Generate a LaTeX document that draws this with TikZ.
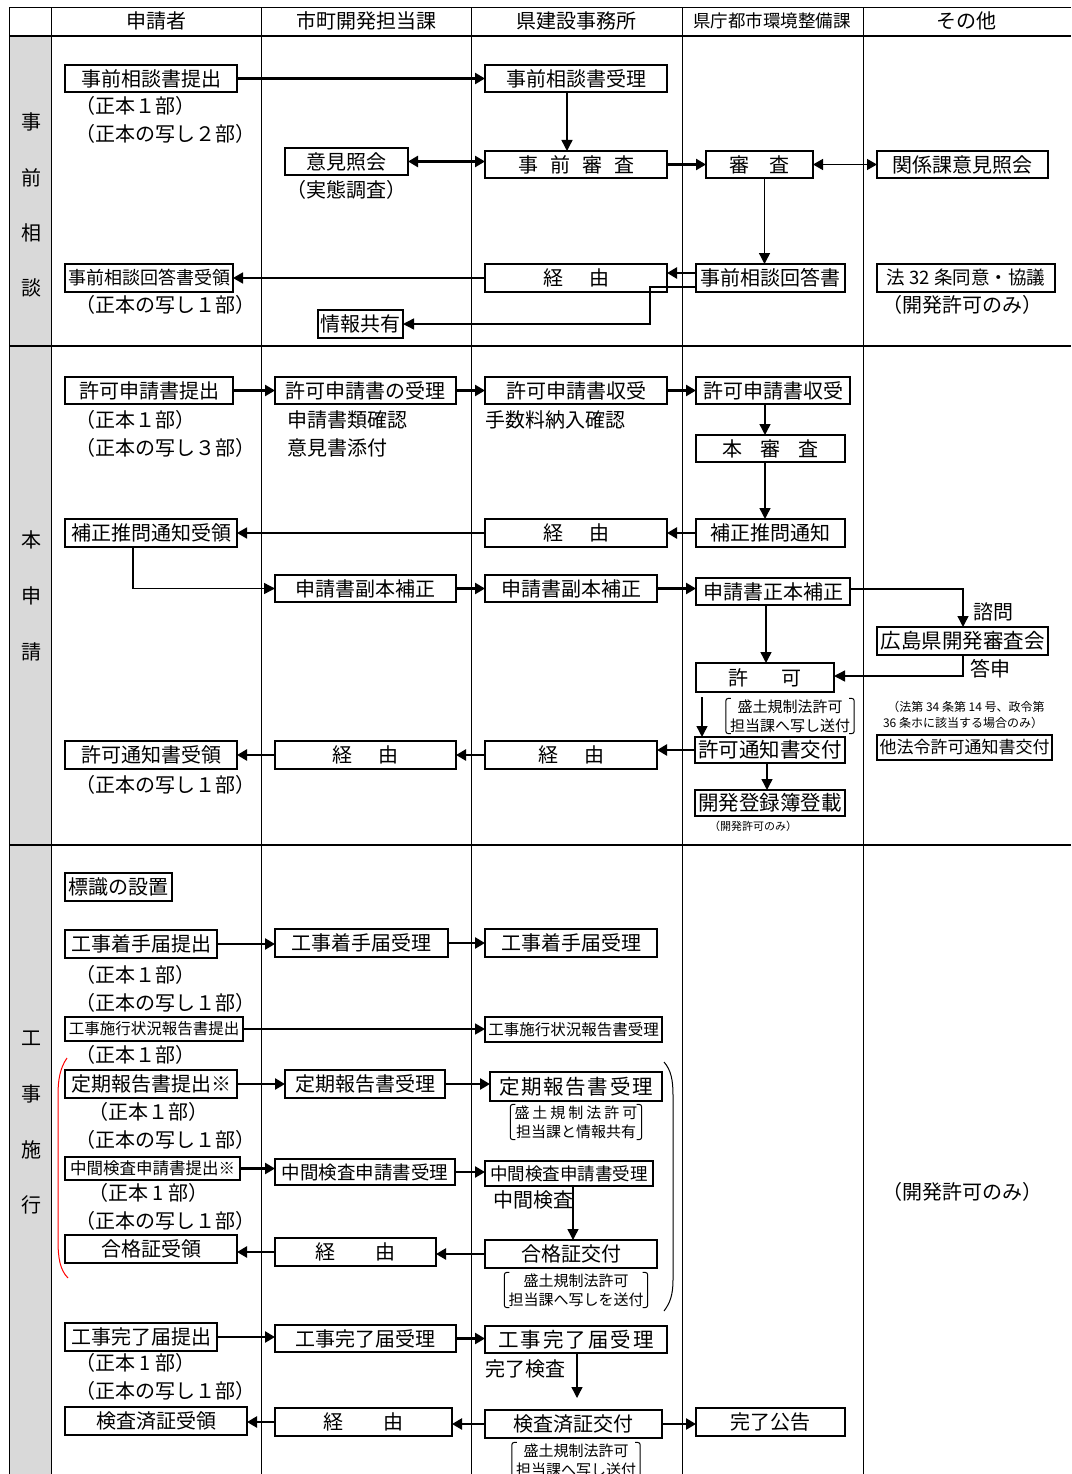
\documentclass[tikz,border=0pt]{standalone}
\usepackage{fontspec}
\setmainfont{Noto Sans CJK JP}
\usetikzlibrary{arrows.meta,calc}
\definecolor{lgray}{RGB}{217,217,217}
\tikzset{
 bx/.style={draw, line width=1.6pt, inner sep=0pt, outer sep=0pt, font=\fontsize{20}{22}\selectfont},
 arr/.style={line width=2.4pt, -{Triangle[length=10pt,width=11pt]}},
 marr/.style={line width=1.7pt, -{Triangle[length=10pt,width=11pt]}},
 tarr/.style={line width=1.4pt, -{Triangle[length=11pt,width=11pt]}},
 darr/.style={line width=2.4pt, {Triangle[length=10pt,width=11pt]}-{Triangle[length=10pt,width=11pt]}},
 tdarr/.style={line width=1.4pt, {Triangle[length=10pt,width=11pt]}-{Triangle[length=10pt,width=11pt]}},
 gridl/.style={line width=1pt},
 sepl/.style={line width=2pt},
 lbl/.style={font=\fontsize{20}{22}\selectfont, inner sep=0pt, anchor=west},
 clbl/.style={font=\fontsize{20}{22}\selectfont, inner sep=0pt},
 hdr/.style={font=\fontsize{20}{22}\selectfont, inner sep=0pt},
 sec/.style={font=\fontsize{20}{22}\selectfont, inner sep=0pt},
 note/.style={font=\fontsize{15}{19}\selectfont, align=center, inner xsep=4pt, inner ysep=1pt},
 small/.style={font=\fontsize{12}{14}\selectfont, inner sep=0pt},
 brk/.style={line width=1pt, rounded corners=2.5pt},
}
\newcommand\jbox[7][]{%
 \node[bx,minimum width={#5pt-#3pt},minimum height={#6pt-#4pt},#1] (#2) at ({(#3+#5)/2},{(#4+#6)/2}) {#7};}
\newcommand\bnote[4]{%
 \node[note] (#1) at (#2,#3) {#4};
 \draw[brk] ([xshift=5pt]#1.north west) -- (#1.north west) -- (#1.south west) -- ([xshift=5pt]#1.south west);
 \draw[brk] ([xshift=-5pt]#1.north east) -- (#1.north east) -- (#1.south east) -- ([xshift=-5pt]#1.south east);}
\begin{document}
\begin{tikzpicture}[x=1pt,y=-1pt]
\useasboundingbox (0,0) rectangle (1071,1474);
% ---------- table ----------
\fill[lgray] (9,36) rectangle (51,1474);
\draw[gridl] (9,8) -- (1071,8);
\foreach \xx in {9,51,261,471,682,863} {\draw[gridl] (\xx,8) -- (\xx,1474);}
\draw[sepl] (9,36) -- (1071,36);
\draw[sepl] (9,346) -- (1071,346);
\draw[sepl] (9,845) -- (1071,845);
% headers
\node[hdr] (h1) at (156,21) {申請者};
\node[hdr] (h2) at (366,21) {市町開発担当課};
\node[hdr] (h3) at (576,21) {県建設事務所};
\node[hdr,font=\fontsize{17.5}{19}\selectfont] (h4) at (772,21) {県庁都市環境整備課};
\node[hdr] (h5) at (966,21) {その他};
% section labels
\node[sec] (s11) at (31,122) {事};
\node[sec] (s12) at (31,178) {前};
\node[sec] (s13) at (31,233) {相};
\node[sec] (s14) at (31,288) {談};
\node[sec] (s21) at (31,540) {本};
\node[sec] (s22) at (31,596) {申};
\node[sec] (s23) at (31,652) {請};
\node[sec] (s31) at (31,1038) {工};
\node[sec] (s32) at (31,1094) {事};
\node[sec] (s33) at (31,1150) {施};
\node[sec] (s34) at (31,1205) {行};
% ---------- section 1 ----------
\jbox{a1}{65}{65}{237}{92}{事前相談書提出}
\jbox{a2}{485}{65}{667}{92}{事前相談書受理}
\jbox{a3}{285}{148}{408}{175}{意見照会}
\jbox{a4}{485}{151}{667}{178}{事\hspace{.6em}前\hspace{.6em}審\hspace{.6em}査}
\jbox{a5}{706}{151}{813}{178}{審\hspace{1em}査}
\jbox{a6}{877}{151}{1048}{178}{関係課意見照会}
\jbox{a7}{696}{264}{845}{292}{事前相談回答書}
\jbox{a8}{485}{264}{667}{292}{経\hspace{1.3em}由}
\jbox[font=\fontsize{18}{20}\selectfont]{a9}{65}{264}{233}{292}{事前相談回答書受領}
\jbox{a10}{318}{310}{403}{338}{情報共有}
\jbox[font=\fontsize{18.5}{20}\selectfont]{a11}{877}{264}{1055}{292}{法 32 条同意・協議}
\node[lbl] (t1) at (75,106) {（正本１部）};
\node[lbl] (t2) at (75,134) {（正本の写し２部）};
\node[clbl] (t3) at (346,190) {（実態調査）};
\node[lbl] (t4) at (75,305) {（正本の写し１部）};
\node[clbl] (t5) at (962,305) {（開発許可のみ）};
\draw[arr] (a1.east) -- (a1.east -| a2.west);
\draw[tarr] ([xshift=-9pt]a2.south) -- ([xshift=-9pt]a2.south |- a4.north);
\draw[darr] (a3.east) -- (a3.east -| a4.west);
\draw[arr] (a4.east) -- (a4.east -| a5.west);
\draw[tdarr] (a5.east) -- (a5.east -| a6.west);
\draw[tarr] ([xshift=5pt]a5.south) -- ([xshift=5pt]a5.south |- a7.north);
\draw[arr] ([yshift=5pt]a7.west) -- ([yshift=5pt]a7.west -| a8.east);
\draw[marr] (a8.west) -- (a8.west -| a9.east);
\draw[tarr] ([yshift=-9pt]a7.west) -- ++(-46,0) |- (a10.east);
% ---------- section 2 ----------
\jbox{b1}{65}{377}{233}{404}{許可申請書提出}
\jbox{b2}{275}{377}{456}{404}{許可申請書の受理}
\jbox{b3}{485}{377}{667}{404}{許可申請書収受}
\jbox{b4}{696}{377}{850}{404}{許可申請書収受}
\jbox{b5}{696}{435}{845}{462}{本\hspace{.9em}審\hspace{.9em}査}
\jbox{b6}{696}{519}{845}{547}{補正推問通知}
\jbox{b7}{485}{519}{667}{547}{経\hspace{1.3em}由}
\jbox{b8}{65}{519}{237}{547}{補正推問通知受領}
\jbox{b9}{275}{575}{456}{602}{申請書副本補正}
\jbox{b10}{485}{575}{657}{602}{申請書副本補正}
\jbox{b11}{696}{578}{850}{605}{申請書正本補正}
\jbox[font=\fontsize{20.5}{22}\selectfont]{b12}{877}{627}{1048}{655}{広島県開発審査会}
\jbox{b13}{696}{663}{834}{692}{許\hspace{1.7em}可}
\jbox[font=\fontsize{20.5}{22}\selectfont]{b14}{695}{737}{845}{763}{許可通知書交付}
\jbox[font=\fontsize{20.5}{22}\selectfont]{b15}{695}{790}{845}{816}{開発登録簿登載}
\jbox[font=\fontsize{17}{19}\selectfont]{b16}{877}{735}{1052}{760}{他法令許可通知書交付}
\jbox{b17}{485}{741}{657}{769}{経\hspace{1.3em}由}
\jbox{b18}{275}{741}{456}{769}{経\hspace{1.3em}由}
\jbox{b19}{65}{741}{237}{769}{許可通知書受領}
\node[lbl] (u1) at (75,420) {（正本１部）};
\node[lbl] (u2) at (75,448) {（正本の写し３部）};
\node[lbl] (u3) at (287,420) {申請書類確認};
\node[lbl] (u4) at (287,448) {意見書添付};
\node[lbl] (u5) at (485,420) {手数料納入確認};
\node[lbl] (u6) at (973,612) {諮問};
\node[lbl] (u7) at (970,669) {答申};
\node[small] (u8) at (966,707) {（法第 34 条第 14 号、政令第};
\node[small] (u9) at (963,723) {36 条ホに該当する場合のみ）};
\node[small,font=\fontsize{11}{13}\selectfont] (u10) at (753,826) {（開発許可のみ）};
\node[lbl] (u11) at (75,785) {（正本の写し１部）};
\bnote{n1}{790}{716}{盛土規制法許可\\担当課へ写し送付}
\draw[arr] (b1.east) -- (b1.east -| b2.west);
\draw[arr] (b2.east) -- (b2.east -| b3.west);
\draw[arr] (b3.east) -- (b3.east -| b4.west);
\draw[tarr] ([xshift=-8pt]b4.south) -- ([xshift=-8pt]b4.south |- b5.north);
\draw[tarr] ([xshift=-5.5pt]b5.south) -- ([xshift=-5.5pt]b5.south |- b6.north);
\draw[arr] (b6.west) -- (b6.west -| b7.east);
\draw[marr] (b7.west) -- (b7.west -| b8.east);
\draw[tarr] ([xshift=-18pt]b8.south) |- (b9.west);
\draw[arr] (b9.east) -- (b9.east -| b10.west);
\draw[arr] (b10.east) -- (b10.east -| b11.west);
\draw[tarr] ([yshift=2.5pt]b11.east) -| ([xshift=0.5pt]b12.north);
\draw[tarr] ([xshift=-7pt]b11.south) -- ([xshift=-7pt]b11.south |- b13.north);
\draw[tarr] ([xshift=0.5pt]b12.south) |- ([yshift=1.5pt]b13.east);
\draw[tarr] ([xshift=-63pt,yshift=-5pt]b13.south) -- ([xshift=-63pt]b13.south |- b14.north);
\draw[tarr] ([xshift=-3pt]b14.south) -- ([xshift=-3pt]b14.south |- b15.north);
\draw[arr] (b14.west) -- (b14.west -| b17.east);
\draw[arr] (b17.west) -- (b17.west -| b18.east);
\draw[arr] (b18.west) -- (b18.west -| b19.east);
% ---------- section 3 ----------
\jbox{c1}{65}{873}{172}{901}{標識の設置}
\jbox{c2}{65}{930}{217}{958}{工事着手届提出}
\jbox{c3}{275}{929}{448}{957}{工事着手届受理}
\jbox{c4}{485}{929}{657}{957}{工事着手届受理}
\jbox[font=\fontsize{15.5}{17}\selectfont]{c5}{65}{1017}{243}{1041}{工事施行状況報告書提出}
\jbox[font=\fontsize{15.5}{17}\selectfont]{c6}{485}{1017}{662}{1042}{工事施行状況報告書受理}
\jbox{c7}{65}{1070}{237}{1098}{定期報告書提出※}
\jbox{c8}{285}{1070}{445}{1098}{定期報告書受理}
\jbox[font=\fontsize{20.5}{22}\selectfont]{c9}{490}{1072}{662}{1101}{定\hspace{.08em}期\hspace{.08em}報\hspace{.08em}告\hspace{.08em}書\hspace{.08em}受\hspace{.08em}理}
\jbox[font=\fontsize{16.5}{18}\selectfont]{c10}{65}{1157}{240}{1180}{中間検査申請書提出※}
\jbox[font=\fontsize{18.5}{20}\selectfont]{c11}{275}{1159}{455}{1185}{中間検査申請書受理}
\jbox[font=\fontsize{17.5}{19}\selectfont]{c12}{485}{1161}{653}{1186}{中間検査申請書受理}
\jbox{c13}{485}{1240}{657}{1268}{合格証交付}
\jbox{c14}{275}{1238}{436}{1266}{経\hspace{2em}由}
\jbox{c15}{65}{1235}{237}{1263}{合格証受領}
\jbox{c16}{65}{1323}{217}{1351}{工事完了届提出}
\jbox{c17}{275}{1325}{456}{1352}{工事完了届受理}
\jbox[font=\fontsize{20.5}{22}\selectfont]{c18}{485}{1326}{667}{1353}{工\hspace{.1em}事\hspace{.1em}完\hspace{.1em}了\hspace{.1em}届\hspace{.1em}受\hspace{.1em}理}
\jbox{c19}{485}{1410}{662}{1438}{検査済証交付}
\jbox{c20}{275}{1408}{452}{1436}{経\hspace{2em}由}
\jbox{c21}{65}{1407}{247}{1435}{検査済証受領}
\jbox{c22}{696}{1408}{845}{1436}{完了公告}
\node[lbl] (v1) at (75,975) {（正本１部）};
\node[lbl] (v2) at (75,1003) {（正本の写し１部）};
\node[lbl] (v3) at (75,1055) {（正本１部）};
\node[lbl] (v4) at (88,1112) {（正本１部）};
\node[lbl] (v5) at (75,1140) {（正本の写し１部）};
\node[lbl] (v6) at (88,1193) {（正本 1 部）};
\node[lbl] (v7) at (75,1221) {（正本の写し１部）};
\node[lbl] (v8) at (75,1363) {（正本 1 部）};
\node[lbl] (v9) at (75,1391) {（正本の写し１部）};
\node[lbl] (v10) at (493,1200) {中間検査};
\node[lbl] (v11) at (485,1369) {完了検査};
\node[clbl] (v12) at (962,1192) {（開発許可のみ）};
\bnote{n2}{576}{1122}{盛\hspace{.2em}土\hspace{.2em}規\hspace{.2em}制\hspace{.2em}法\hspace{.2em}許\hspace{.2em}可\\担当課と情報共有}
\bnote{n3}{576}{1290}{盛土規制法許可\\担当課へ写しを送付}
\bnote{n4}{576}{1460}{盛土規制法許可\\担当課へ写し送付}
\draw[red,line width=1pt] (67,1058) .. controls (60,1068) and (58,1080) .. (58,1095) -- (58,1240) .. controls (58,1258) and (60,1270) .. (68,1278);
\draw[line width=1pt] (664,1062) .. controls (671,1070) and (673,1080) .. (673,1095) -- (673,1280) .. controls (673,1295) and (670,1303) .. (664,1311);
\draw[arr] (c2.east) -- (c2.east -| c3.west);
\draw[arr] (c3.east) -- (c3.east -| c4.west);
\draw[marr] (c5.east) -- (c5.east -| c6.west);
\draw[arr] (c7.east) -- (c7.east -| c8.west);
\draw[arr] (c8.east) -- (c8.east -| c9.west);
\draw[arr] (c10.east) -- (c10.east -| c11.west);
\draw[arr] (c11.east) -- (c11.east -| c12.west);
\draw[tarr] ([xshift=4pt]c12.south) -- ([xshift=4pt]c12.south |- c13.north);
\draw[arr] (c13.west) -- (c13.west -| c14.east);
\draw[arr] (c14.west) -- (c14.west -| c15.east);
\draw[arr] (c16.east) -- (c16.east -| c17.west);
\draw[arr] (c17.east) -- (c17.east -| c18.west);
\draw[tarr] ([xshift=1pt]c18.south) -- ++(0,45);
\draw[arr] (c19.east) -- (c19.east -| c22.west);
\draw[arr] (c19.west) -- (c19.west -| c20.east);
\draw[arr] (c20.west) -- (c20.west -| c21.east);
\end{tikzpicture}
\end{document}
